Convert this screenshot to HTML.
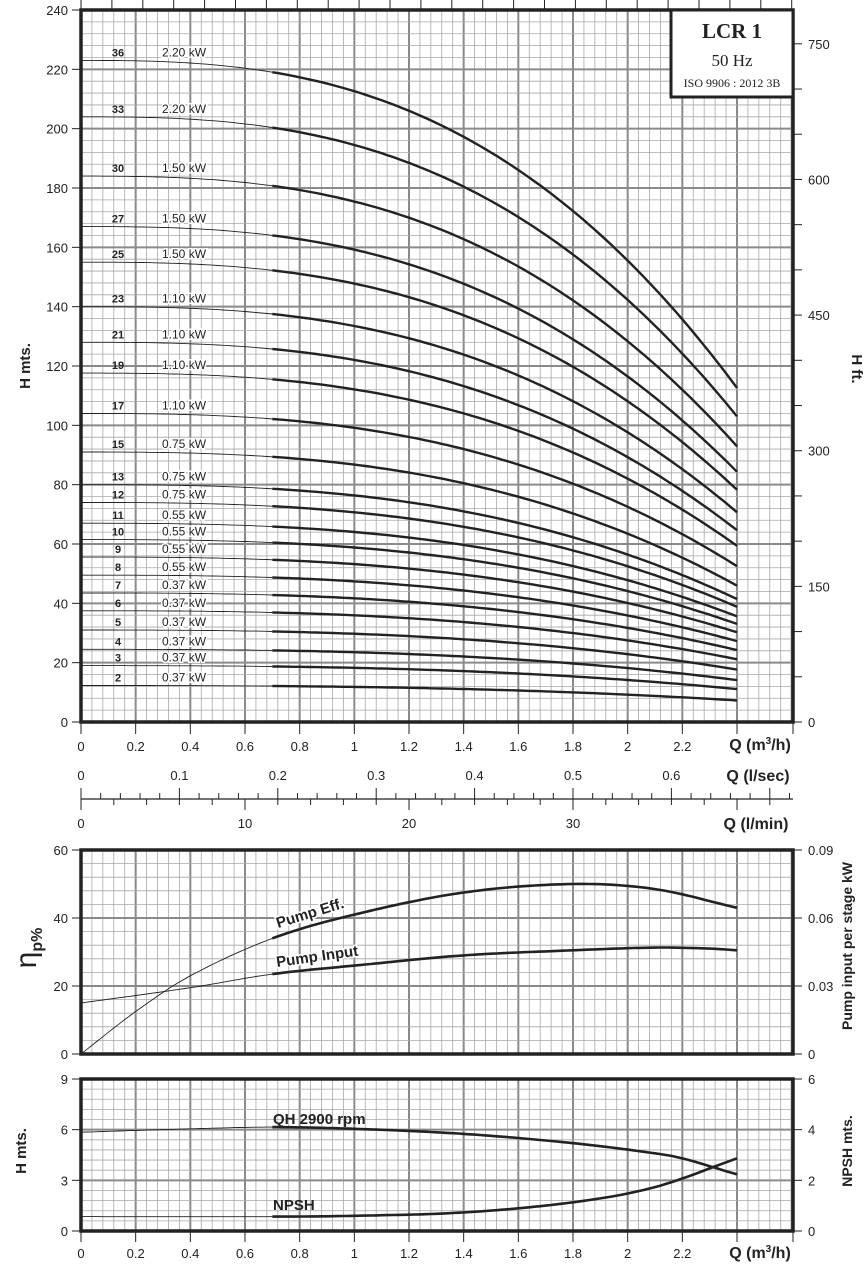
<!DOCTYPE html>
<html><head><meta charset="utf-8">
<style>
html,body{margin:0;padding:0;background:#fff;}
svg{display:block;font-family:"Liberation Sans",Arial,sans-serif;}
</style></head>
<body>
<svg id="s" width="866" height="1268" viewBox="0 0 866 1268" xmlns="http://www.w3.org/2000/svg">
<g id="grid"></g>
<g id="curves"></g>
<g id="txt" fill="#222" font-size="13">
<text x="34" y="370" transform="rotate(-90 30 370)" text-anchor="middle" font-weight="bold" font-size="15">H mts.</text>
<text x="856" y="365" transform="rotate(90 852 365)" text-anchor="middle" font-weight="bold" font-size="15">H ft.</text>
<rect x="671" y="10" width="122" height="87" fill="#fff" stroke="#222" stroke-width="3"/>
<text x="732" y="38" text-anchor="middle" font-family="Liberation Serif,serif" font-weight="bold" font-size="21">LCR 1</text>
<text x="732" y="66" text-anchor="middle" font-family="Liberation Serif,serif" font-size="17">50 Hz</text>
<text x="732" y="87" text-anchor="middle" font-family="Liberation Serif,serif" font-size="12">ISO 9906 : 2012 3B</text>
<text x="760" y="750" text-anchor="middle" font-weight="bold" font-size="16">Q (m<tspan dy="-6" font-size="10">3</tspan><tspan dy="6">/h)</tspan></text>
<text x="758" y="781" text-anchor="middle" font-weight="bold" font-size="16">Q (l/sec)</text>
<text x="756" y="829" text-anchor="middle" font-weight="bold" font-size="16">Q (l/min)</text>
<text x="760" y="1258" text-anchor="middle" font-weight="bold" font-size="16">Q (m<tspan dy="-6" font-size="10">3</tspan><tspan dy="6">/h)</tspan></text>
<text x="40" y="952" transform="rotate(-90 36 952)" text-anchor="middle" font-size="30">η<tspan font-size="16" dy="6" font-weight="bold">p%</tspan></text>
<text x="856" y="950" transform="rotate(-90 852 950)" text-anchor="middle" font-weight="bold" font-size="14">Pump input per stage kW</text>
<text x="30" y="1155" transform="rotate(-90 26 1155)" text-anchor="middle" font-weight="bold" font-size="15">H mts.</text>
<text x="856" y="1155" transform="rotate(-90 852 1155)" text-anchor="middle" font-weight="bold" font-size="14">NPSH mts.</text>
<text x="278" y="928" transform="rotate(-17 278 928)" font-weight="bold" font-size="15" stroke="#fff" stroke-width="3" paint-order="stroke">Pump Eff.</text>
<text x="277" y="967" transform="rotate(-8 277 967)" font-weight="bold" font-size="15" stroke="#fff" stroke-width="3" paint-order="stroke">Pump Input</text>
<text x="273" y="1124" font-weight="bold" font-size="15">QH 2900 rpm</text>
<text x="273" y="1210" font-weight="bold" font-size="15">NPSH</text>
</g>
</svg>
<script>
var NS="http://www.w3.org/2000/svg";
function el(p,tag,a,t){var e=document.createElementNS(NS,tag);for(var k in a)e.setAttribute(k,a[k]);if(t!==undefined)e.textContent=t;document.getElementById(p).appendChild(e);return e;}
var X0=81,X1=793,SX=273.33;
function qx(q){return X0+q*SX;}
function line(p,x1,y1,x2,y2,c,w){el(p,"line",{x1:x1,y1:y1,x2:x2,y2:y2,stroke:c,"stroke-width":w});}
function panel(top,bot,nmin,majEvery){
  for(var i=0;;i++){var x=X0+i*0.04*SX;if(x>X1)break;var maj=(i%5==0);line("grid",x,top,x,bot,maj?"#8a8a8a":"#a8a8a8",maj?2:0.8);}
  var h=(bot-top)/nmin;
  for(var j=0;j<=nmin;j++){var y=bot-j*h;var maj=(j%majEvery==0);line("grid",X0,y,X1,y,maj?"#8a8a8a":"#a8a8a8",maj?2:0.8);}
  el("grid","rect",{x:X0,y:top,width:X1-X0,height:bot-top,fill:"none",stroke:"#222","stroke-width":3.5});
}
var MT=10,MB=722,MS=(MB-MT)/240;
panel(MT,MB,60,5);
for(var v=0;v<=240;v+=20){var y=MB-v*MS;line("grid",72,y,X0,y,"#222",1);el("txt","text",{x:68,y:y+5,"text-anchor":"end"},""+v);}
for(var f=0;f<=800;f+=50){var y=MB-f*0.3048*MS;if(y<MT)break;line("grid",X1,y,X1+9,y,"#222",1);if(f%150==0)el("txt","text",{x:808,y:y+5},""+f);}
for(var x=X0;x<=X1;x+=30.9){line("grid",x,0,x,MT,"#222",1);}
var ql=["0","0.2","0.4","0.6","0.8","1","1.2","1.4","1.6","1.8","2","2.2"];
for(var i=0;i<ql.length;i++){var x=qx(i*0.2);line("grid",x,MB,x,734,"#222",1);el("txt","text",{x:x,y:751,"text-anchor":"middle"},ql[i]);}
line("grid",qx(2.4),MB,qx(2.4),734,"#222",1);line("grid",X1,MB,X1,734,"#222",1);
line("grid",X0,799,X1,799,"#222",1.2);
var ls=["0","0.1","0.2","0.3","0.4","0.5","0.6"];
for(var k=0;k<=36;k++){var q=k*0.02*3.6;var x=qx(q);if(x>X1+0.5)break;var maj=k%5==0;line("grid",x,maj?788:793,x,799,"#222",1);if(maj)el("txt","text",{x:x,y:780,"text-anchor":"middle"},ls[k/5]);}
var lm={0:"0",10:"10",20:"20",30:"30"};
for(var k=0;k<=44;k+=2){var x=qx(k*0.06);if(x>X1+0.5)break;var maj=k%10==0;line("grid",x,799,x,maj?810:805,"#222",1);if(maj)el("txt","text",{x:x,y:828,"text-anchor":"middle"},lm[k]);}
var st=[[36,223,"2.20"],[33,204,"2.20"],[30,184,"1.50"],[27,167,"1.50"],[25,155,"1.50"],[23,140,"1.10"],[21,128,"1.10"],[19,117.6,"1.10"],[17,104,"1.10"],[15,91,"0.75"],[13,80,"0.75"],[12,74,"0.75"],[11,67,"0.55"],[10,61.5,"0.55"],[9,55.6,"0.55"],[8,49.5,"0.55"],[7,43.5,"0.37"],[6,37.5,"0.37"],[5,31,"0.37"],[4,24.5,"0.37"],[3,19,"0.37"],[2,12.3,"0.37"]];
function hq(H0,n,q){var r=n>=15?0.505:0.505+0.085*(15-n)/13;var d=1-r;return H0*(1-d*Math.pow(q/2.4,2.7));}
st.forEach(function(s){
  var n=s[0],H0=s[1];var p1="",p2="";
  for(var q=0;q<=0.7001;q+=0.02){p1+=(p1?"L":"M")+qx(q).toFixed(1)+","+(MB-hq(H0,n,q)*MS).toFixed(1);}
  for(var q=0.7;q<=2.4001;q+=0.02){p2+=(p2?"L":"M")+qx(q).toFixed(1)+","+(MB-hq(H0,n,q)*MS).toFixed(1);}
  el("curves","path",{d:p1,fill:"none",stroke:"#222","stroke-width":0.9});
  el("curves","path",{d:p2,fill:"none",stroke:"#222","stroke-width":2.4});
  var y=MB-H0*MS-4;
  el("txt","text",{x:118,y:y,"text-anchor":"middle","font-weight":"bold","font-size":11},""+n);
  el("txt","text",{x:162,y:y,"font-size":12,stroke:"#fff","stroke-width":3,"paint-order":"stroke"},s[2]+" kW");
});
var ET=850,EB=1054,ES=(EB-ET)/60;
panel(ET,EB,15,5);
for(var v=0;v<=60;v+=20){var y=EB-v*ES;line("grid",72,y,X0,y,"#222",1);el("txt","text",{x:68,y:y+5,"text-anchor":"end"},""+v);}
var rl=["0","0.03","0.06","0.09"];
for(var i=0;i<4;i++){var y=EB-i*20*ES;line("grid",X1,y,X1+9,y,"#222",1);el("txt","text",{x:808,y:y+5},rl[i]);}
var NT=1079,NB=1231,NSc=(NB-NT)/9;
panel(NT,NB,15,5);
for(var v=0;v<=9;v+=3){var y=NB-v*NSc;line("grid",72,y,X0,y,"#222",1);el("txt","text",{x:68,y:y+5,"text-anchor":"end"},""+v);}
for(var i=0;i<=3;i++){var y=NB-i*3*NSc;line("grid",X1,y,X1+9,y,"#222",1);el("txt","text",{x:808,y:y+5},""+(i*2));}
for(var i=0;i<ql.length;i++){var x=qx(i*0.2);line("grid",x,NB,x,1242,"#222",1);el("txt","text",{x:x,y:1258,"text-anchor":"middle"},ql[i]);}
line("grid",qx(2.4),NB,qx(2.4),1242,"#222",1);line("grid",X1,NB,X1,1242,"#222",1);
function spl(pts,top,bot,scale){
  function f(q){for(var i=0;i<pts.length-1;i++){if(q<=pts[i+1][0]+1e-9){var p0=pts[Math.max(i-1,0)],p1=pts[i],p2=pts[i+1],p3=pts[Math.min(i+2,pts.length-1)];var t=(q-p1[0])/(p2[0]-p1[0]);var m1=(p2[1]-p0[1])/(p2[0]-p0[0]||1)*(p2[0]-p1[0]),m2=(p3[1]-p1[1])/(p3[0]-p1[0]||1)*(p2[0]-p1[0]);var t2=t*t,t3=t2*t;return (2*t3-3*t2+1)*p1[1]+(t3-2*t2+t)*m1+(-2*t3+3*t2)*p2[1]+(t3-t2)*m2;}}return pts[pts.length-1][1];}
  var a="",b="";
  for(var q=0;q<=0.7001;q+=0.02)a+=(a?"L":"M")+qx(q).toFixed(1)+","+(bot-f(q)*scale).toFixed(1);
  for(var q=0.7;q<=2.4001;q+=0.02)b+=(b?"L":"M")+qx(q).toFixed(1)+","+(bot-f(q)*scale).toFixed(1);
  el("curves","path",{d:a,fill:"none",stroke:"#222","stroke-width":0.9});
  el("curves","path",{d:b,fill:"none",stroke:"#222","stroke-width":2.6});
}
spl([[0,0],[0.2,12.5],[0.4,23],[0.7,34],[1.0,41],[1.4,47.5],[1.8,50],[2.1,48.5],[2.4,43]],ET,EB,ES);
spl([[0,15],[0.4,19.5],[0.7,23.5],[1.0,26],[1.4,29],[1.8,30.5],[2.1,31.3],[2.3,31],[2.4,30.5]],ET,EB,ES);
spl([[0,5.85],[0.4,6.05],[0.7,6.15],[1.0,6.05],[1.4,5.75],[1.8,5.2],[2.1,4.6],[2.2,4.3],[2.4,3.35]],NT,NB,NSc);
spl([[0,0.85],[0.7,0.85],[1.0,0.9],[1.4,1.1],[1.8,1.7],[2.1,2.6],[2.4,4.3]],NT,NB,NSc);
</script>
</body></html>
